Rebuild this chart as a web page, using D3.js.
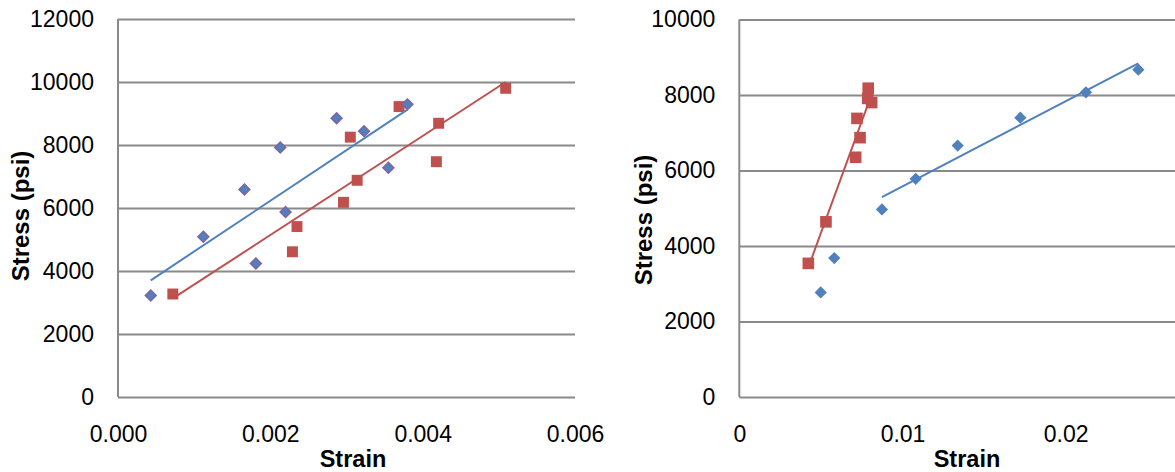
<!DOCTYPE html>
<html lang="en">
<head>
  <meta charset="UTF-8">
  <title>Stress vs Strain</title>
  <script src="https://cdn.jsdelivr.net/npm/d3@7/dist/d3.min.js"></script>
  <style>
    body { margin: 0; background: #fff; }
    svg { display: block; font-family: "Liberation Sans", Arial, sans-serif; }
  </style>
</head>
<body>
<div id="root"></div>
<script>
  // left chart data
  const leftBlueX = [0.00043, 0.00112, 0.00166, 0.00181, 0.00213, 0.00220, 0.00287, 0.00323, 0.00355, 0.00380];
  const leftBlueY = [3220, 5090, 6590, 4240, 7920, 5870, 8850, 8440, 7280, 9290];
  const leftRedX = [0.00072, 0.00229, 0.00235, 0.00296, 0.00305, 0.00314, 0.00369, 0.00418, 0.00421, 0.00509];
  const leftRedY = [3270, 4610, 5410, 6180, 8250, 6880, 9220, 7470, 8690, 9800];
  const leftXTicks = [0, 0.002, 0.004, 0.006];
  const leftYTicks = [0, 2000, 4000, 6000, 8000, 10000, 12000];

  // right chart data
  const rightBlueX = [0.00499, 0.00582, 0.00874, 0.01081, 0.01338, 0.01722, 0.02124, 0.02445];
  const rightBlueY = [2770, 3680, 4970, 5780, 6660, 7400, 8070, 8670];
  const rightRedX = [0.00423, 0.00531, 0.00713, 0.00740, 0.00721, 0.00790, 0.00787, 0.00811];
  const rightRedY = [3540, 4640, 6350, 6870, 7380, 8180, 7910, 7800];
  const rightXTicks = [0, 0.01, 0.02];
  const rightYTicks = [0, 2000, 4000, 6000, 8000, 10000];

  const blue = '#4F81BD';
  const red = '#C0504D';
  const purple = '#8064A2';
  const gridColor = '#8a8a8a';

  const W = 1175, H = 472;
  const svg = d3.select('#root').append('svg')
    .attr('width', W).attr('height', H)
    .style('overflow', 'hidden');

  // least squares line over the points from index `from`
  const fitLine = (xs, ys, from) => {
    const px = xs.slice(from), py = ys.slice(from);
    const mx = d3.mean(px), my = d3.mean(py);
    const sxy = d3.sum(px, (x, i) => (x - mx) * (py[i] - my));
    const sxx = d3.sum(px, x => (x - mx) * (x - mx));
    const b = sxy / sxx, a = my - b * mx;
    const [x0, x1] = d3.extent(px);
    return [[x0, a + b * x0], [x1, a + b * x1]];
  };

  const drawChart = cfg => {
    const g = svg.append('g');
    const x = d3.scaleLinear().domain(cfg.xDomain).range(cfg.xRange);
    const y = d3.scaleLinear().domain(cfg.yDomain).range([397, cfg.yTop]);

    // horizontal gridlines
    g.append('g').attr('transform', `translate(${cfg.xRange[0]},0)`)
      .call(d3.axisLeft(y).tickValues(cfg.yTicks)
        .tickSize(-(cfg.gridEnd - cfg.xRange[0])).tickPadding(24)
        .tickFormat(d3.format('d')))
      .call(s => s.select('.domain').remove())
      .call(s => s.selectAll('line').attr('stroke', gridColor).attr('stroke-width', 2))
      .call(s => s.selectAll('text').attr('fill', '#000').style('font-size', '23px'));

    // vertical axis line
    g.append('line')
      .attr('x1', cfg.xRange[0]).attr('x2', cfg.xRange[0])
      .attr('y1', y(cfg.yDomain[1])).attr('y2', y(0))
      .attr('stroke', gridColor).attr('stroke-width', 2);

    // x tick labels
    g.append('g').attr('transform', 'translate(0,397)')
      .call(d3.axisBottom(x).tickValues(cfg.xTicks).tickSize(0).tickPadding(29)
        .tickFormat(cfg.xFormat))
      .call(s => s.select('.domain').remove())
      .call(s => s.selectAll('text').attr('fill', '#000').style('font-size', '23px'));

    const sym = (type, size) => d3.symbol().type(type).size(size);

    cfg.series.forEach(sr => {
      const pts = sr.xs.map((v, i) => [v, sr.ys[i]]);
      g.append('g').selectAll('path')
        .data(pts)
        .join('path')
        .attr('transform', d => `translate(${x(d[0])},${y(d[1])})`)
        .attr('d', sr.type === 'diamond' ? sym(d3.symbolDiamond2, sr.size)() : sym(d3.symbolSquare, sr.size)())
        .attr('fill', sr.color)
        .attr('stroke', sr.stroke || 'none')
        .attr('stroke-width', sr.stroke ? 1.5 : 0);
    });

    cfg.series.forEach(sr => {
      const seg = fitLine(sr.xs, sr.ys, sr.fitFrom || 0);
      g.append('path')
        .attr('d', d3.line().x(d => x(d[0])).y(d => y(d[1]))(seg))
        .attr('fill', 'none')
        .attr('stroke', sr.color)
        .attr('stroke-width', 2);
    });

    // axis titles
    g.append('text')
      .attr('transform', `translate(${cfg.yTitleX},${cfg.yTitleY}) rotate(-90)`)
      .attr('text-anchor', 'middle')
      .style('font-size', '24px').style('font-weight', 'bold')
      .text('Stress (psi)');
    g.append('text')
      .attr('x', cfg.xTitleX).attr('y', 467)
      .attr('text-anchor', 'middle')
      .style('font-size', '23.5px').style('font-weight', 'bold')
      .text('Strain');
  };

  drawChart({
    xDomain: [0, 0.006], xRange: [118, 575], gridEnd: 575,
    yDomain: [0, 12000], yTop: 19,
    xTicks: leftXTicks, yTicks: leftYTicks,
    xFormat: d3.format('.3f'),
    yTitleX: 29, yTitleY: 216, xTitleX: 353,
    series: [
      { xs: leftRedX, ys: leftRedY, color: red, type: 'square', size: 120 },
      { xs: leftBlueX, ys: leftBlueY, color: blue, stroke: purple, type: 'diamond', size: 75 }
    ]
  });

  drawChart({
    xDomain: [0, 0.03], xRange: [739.3, 1228.9], gridEnd: 1228.9,
    yDomain: [0, 10000], yTop: 19.5,
    xTicks: rightXTicks, yTicks: rightYTicks,
    xFormat: d => d === 0 ? '0' : d3.format('.2f')(d),
    yTitleX: 652, yTitleY: 220, xTitleX: 967,
    series: [
      { xs: rightRedX, ys: rightRedY, color: red, type: 'square', size: 135 },
      { xs: rightBlueX, ys: rightBlueY, color: blue, type: 'diamond', size: 95, fitFrom: 2 }
    ]
  });
</script>
</body>
</html>
